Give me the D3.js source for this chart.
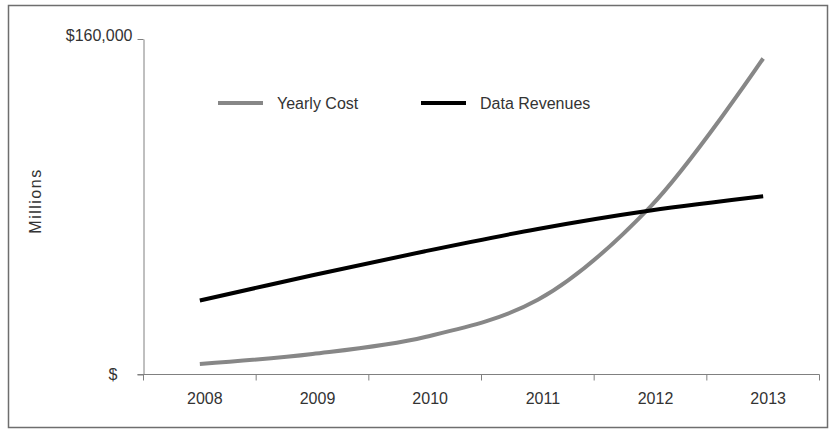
<!DOCTYPE html>
<html>
<head>
<meta charset="utf-8">
<script src="https://cdn.jsdelivr.net/npm/d3@7"></script>
<style>
  html, body { margin: 0; padding: 0; background: #fff; }
  svg { display: block; font-family: "Liberation Sans", Arial, sans-serif; }
</style>
</head>
<body>
<svg id="chart" width="830" height="429"></svg>
<script>
const years = ["2008", "2009", "2010", "2011", "2012", "2013"];
const yearlyCost = [5000, 9800, 17900, 35600, 80100, 150700];
const dataRevenues = [35300, 47300, 58800, 69400, 78200, 85000];
const yTicks = [0, 160000];
const seriesNames = ["Yearly Cost", "Data Revenues"];
const seriesColors = ["#878787", "#000000"];

const svg = d3.select("#chart");

// outer border
svg.append("rect")
  .attr("x", 8.5).attr("y", 5.5)
  .attr("width", 819).attr("height", 422)
  .attr("fill", "#fff").attr("stroke", "#6e6e6e").attr("stroke-width", 1.5);

const plot = { left: 143.5, right: 819.5, top: 39, bottom: 374.5 };

const x = d3.scaleBand().domain(years).range([plot.left, plot.right]).paddingInner(0).paddingOuter(0);
const y = d3.scaleLinear().domain([0, 160000]).range([plot.bottom, plot.top]);

const axisColor = "#808080";
const textColor = "#333";

// Y axis
const yAxis = svg.append("g")
  .attr("transform", `translate(${plot.left},0)`)
  .call(d3.axisLeft(y).tickValues(yTicks).tickSize(6).tickSizeOuter(0)
    .tickFormat(d => d === 0 ? "$" : "$" + d3.format(",")(d)));
yAxis.select(".domain").attr("stroke", axisColor);
yAxis.selectAll(".tick line").attr("stroke", axisColor);
yAxis.selectAll(".tick text")
  .attr("fill", textColor).attr("font-size", 16).attr("font-family", "Liberation Sans, Arial, sans-serif")
  .attr("x", d => d === 0 ? -26 : -11)
  .attr("dy", d => d === 0 ? "0.32em" : "0.1em");

// X axis
const xAxis = svg.append("g")
  .attr("transform", `translate(0,${plot.bottom})`)
  .call(d3.axisBottom(x).tickSize(0).tickSizeOuter(0).tickPadding(18));
xAxis.select(".domain").remove();
xAxis.selectAll(".tick text")
  .attr("fill", textColor).attr("font-size", 16).attr("font-family", "Liberation Sans, Arial, sans-serif")
  .attr("dx", 5);

svg.append("line")
  .attr("x1", plot.left - 6).attr("x2", plot.right)
  .attr("y1", plot.bottom).attr("y2", plot.bottom)
  .attr("stroke", axisColor);

const boundaries = years.map(d => x(d)).concat([x(years[years.length - 1]) + x.bandwidth()]);
svg.append("g").selectAll("line").data(boundaries).join("line")
  .attr("x1", d => d).attr("x2", d => d)
  .attr("y1", plot.bottom).attr("y2", plot.bottom + 6)
  .attr("stroke", axisColor);

// Y title
svg.append("text")
  .attr("transform", `translate(41,201) rotate(-90)`)
  .attr("text-anchor", "middle")
  .attr("font-size", 16).attr("fill", textColor)
  .attr("letter-spacing", 1.5)
  .text("Millions");

// Lines
const line = d3.line()
  .x((d, i) => x(years[i]) + x.bandwidth() / 2)
  .y(d => y(d))
  .curve(d3.curveCatmullRom.alpha(0.5));

const series = [yearlyCost, dataRevenues];
series.forEach((vals, k) => {
  svg.append("path")
    .datum(vals)
    .attr("d", line)
    .attr("fill", "none")
    .attr("stroke", seriesColors[k])
    .attr("stroke-width", 4)
    .attr("stroke-linecap", "butt");
});

// Legend
const legendX = [218, 421];
const legend = svg.append("g");
seriesNames.forEach((name, k) => {
  legend.append("line")
    .attr("x1", legendX[k]).attr("x2", legendX[k] + 45)
    .attr("y1", 103).attr("y2", 103)
    .attr("stroke", seriesColors[k]).attr("stroke-width", 4);
  legend.append("text")
    .attr("x", legendX[k] + 59).attr("y", 103)
    .attr("dy", "0.35em")
    .attr("font-size", 16).attr("fill", textColor)
    .text(name);
});
</script>
</body>
</html>
